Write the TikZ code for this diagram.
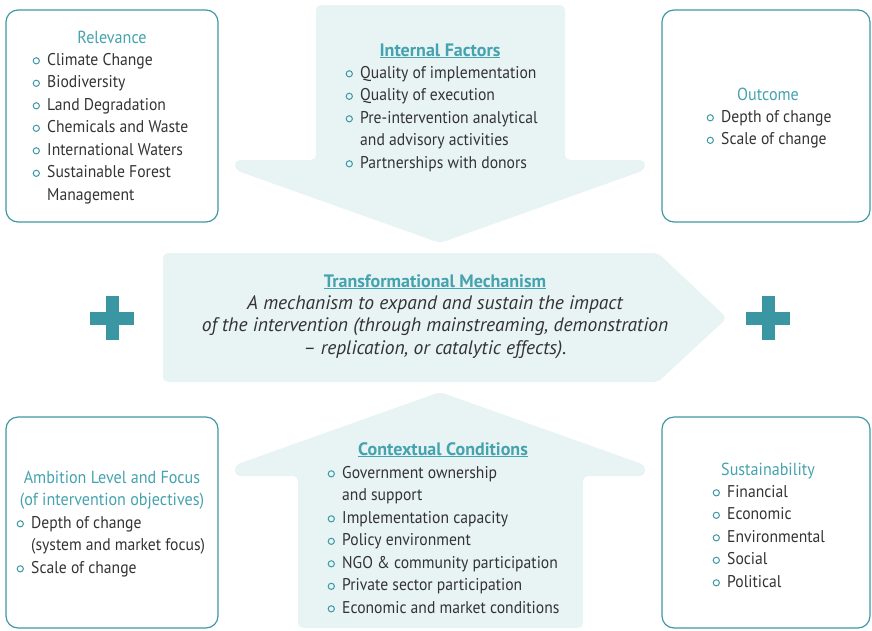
\documentclass[tikz,border=0pt]{standalone}
\usepackage{fontspec}
\setmainfont{PT Sans}[FakeStretch=0.92]
\newfontfamily\plainfont{PT Sans}[Ligatures=TeX]
\definecolor{tealline}{HTML}{3D98A5}
\definecolor{ttlc}{HTML}{45A2AF}
\definecolor{fillc}{HTML}{E8F3F4}
\definecolor{txtc}{HTML}{333333}
\definecolor{plusc}{HTML}{3A96A3}
\newcommand\bl{\makebox[14.5pt][l]{\tikz[baseline=-4.2pt]\draw[tealline,line width=1pt](3.6pt,0pt)circle(3.1pt);}}
\newcommand\ind{\hspace*{14.5pt}}
\tikzset{
  box/.style={draw=tealline, line width=1.2pt, rounded corners=12pt, minimum width=212pt, minimum height=212pt, inner sep=0pt},
  shapefill/.style={fill=fillc, draw=none, rounded corners=5pt},
  itemtxt/.style={text=txtc, font=\fontsize{17}{22.5}\selectfont, inner sep=0pt, align=left, anchor=base west},
  ttl/.style={text=ttlc, font=\fontsize{17.5}{22.5}\selectfont, inner sep=0pt, anchor=base},
  ttlb/.style={ttl, font=\plainfont\bfseries\fontsize{18}{22.5}\selectfont},
  mech/.style={text=txtc, font=\plainfont\itshape\fontsize{19.5}{22.5}\selectfont, inner sep=0pt, align=center, anchor=base},
  plus/.style={fill=plusc, draw=none}
}
\begin{document}
\begin{tikzpicture}[x=1pt,y=-1pt]
\useasboundingbox (0,0) rectangle (872,630);
% arrows and chevron
\path[shapefill] (316,5) -- (565,5) -- (565,160) -- (645,160) -- (645,170) -- (440,243) -- (235,170) -- (235,160) -- (316,160) -- cycle;
\path[shapefill] (440,392) -- (645,465) -- (645,476) -- (583,476) -- (583,628) -- (298,628) -- (298,476) -- (235,476) -- (235,465) -- cycle;
\path[shapefill] (163,253) -- (658,253) -- (727,318) -- (658,382) -- (163,382) -- cycle;
% plus signs
\foreach \cx in {112,768}{
  \path[plus] (\cx-22,311.5) rectangle (\cx+22,324.5);
  \path[plus] (\cx-6.5,296) rectangle (\cx+6.5,340);
}
% boxes
\node[box] (rel) at (112,116) {};
\node[box, minimum width=208pt] (out) at (766,116) {};
\node[box, minimum height=211pt] (amb) at (112,522.5) {};
\node[box, minimum width=208pt, minimum height=211pt] (sus) at (766,522.5) {};
% Relevance (multi-line nodes: base = baseline of last line)
\node[ttl] (relt) at (112,43) {Relevance};
\node[itemtxt] (reli) at (32.5,200) {\bl Climate Change\\ \bl Biodiversity\\ \bl Land Degradation\\ \bl Chemicals and Waste\\ \bl International Waters\\ \bl Sustainable Forest\\ \ind Management};
% Internal Factors
\node[ttlb] (intt) at (440,56) {\underline{Internal Factors}};
\node[itemtxt] (inti) at (345.5,168) {\bl Quality of implementation\\ \bl Quality of execution\\ \bl Pre-intervention analytical\\ \ind and advisory activities\\ \bl Partnerships with donors};
% Outcome
\node[ttl] (outt) at (768,100) {Outcome};
\node[itemtxt] (outi) at (706.5,144.5) {\bl Depth of change\\ \bl Scale of change};
% Mechanism
\node[ttlb] (mecht) at (435,287) {\underline{Transformational Mechanism}};
\node[mech] (mechi) at (435,354) {A mechanism to expand and sustain the impact\\ of the intervention (through mainstreaming, demonstration\\ \textendash{} replication, or catalytic effects).};
% Ambition
\node[ttl, align=center] (ambt) at (112,505.5) {Ambition Level and Focus\\ (of intervention objectives)};
\node[itemtxt] (ambi) at (16.5,573) {\bl Depth of change\\ \ind (system and market focus)\\ \bl Scale of change};
% Contextual
\node[ttlb] (cont) at (443,455) {\underline{Contextual Conditions}};
\node[itemtxt] (coni) at (327.5,613) {\bl Government ownership\\ \ind and support\\ \bl Implementation capacity\\ \bl Policy environment\\ \bl NGO \& community participation\\ \bl Private sector participation\\ \bl Economic and market conditions};
% Sustainability
\node[ttl] (sust) at (768,475) {Sustainability};
\node[itemtxt] (susi) at (712.5,587) {\bl Financial\\ \bl Economic\\ \bl Environmental\\ \bl Social\\ \bl Political};
\end{tikzpicture}
\end{document}
